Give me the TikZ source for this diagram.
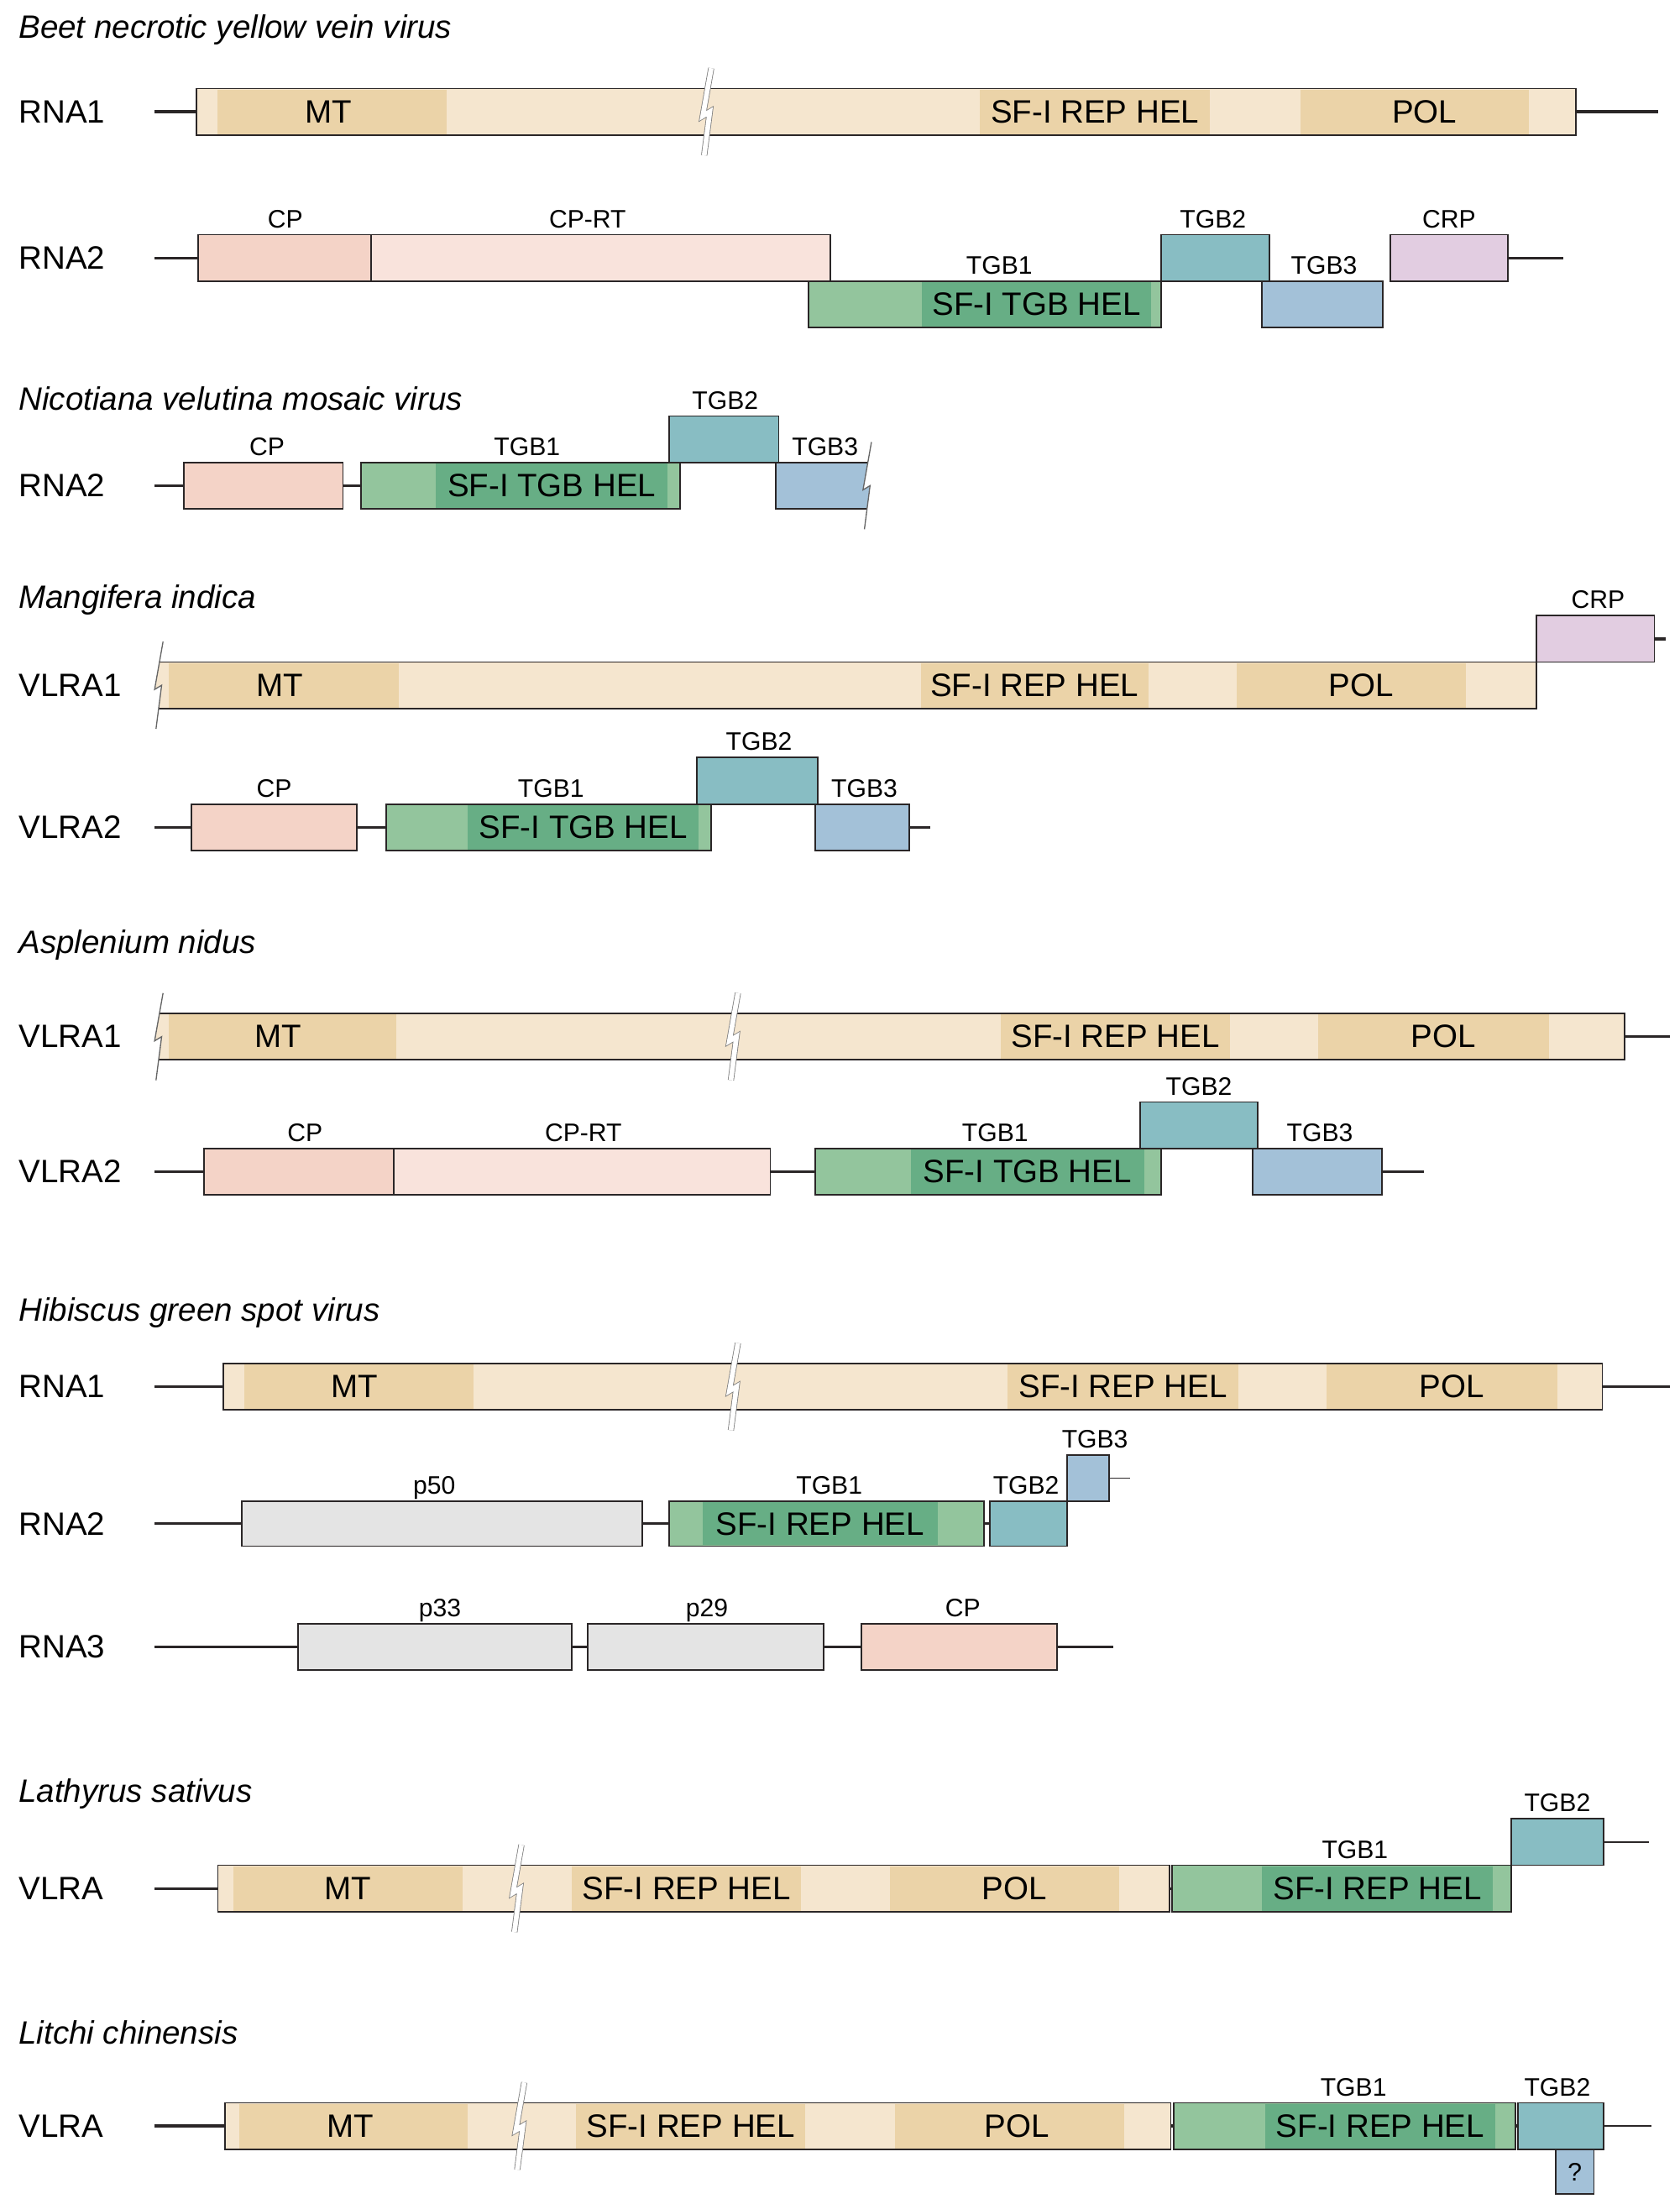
\documentclass[tikz,border=0pt]{standalone}
\usepackage{fontspec}
\setmainfont{Liberation Sans}
\usetikzlibrary{positioning,calc,fit}
\definecolor{tanlt}{HTML}{F5E6CF}
\definecolor{tandk}{HTML}{EBD3A8}
\definecolor{cppink}{HTML}{F4D3C7}
\definecolor{rtpink}{HTML}{F9E3DC}
\definecolor{grnlt}{HTML}{93C59D}
\definecolor{grndk}{HTML}{67AE85}
\definecolor{tgbtwo}{HTML}{88BDC3}
\definecolor{tgbthree}{HTML}{A3C1D8}
\definecolor{crpcol}{HTML}{E2CDE1}
\definecolor{pgray}{HTML}{E4E4E4}
\definecolor{outl}{HTML}{2A2627}
\tikzstyle{genome}=[
  x=0.5pt,y=-0.5pt,font=\fontsize{11.5}{13}\selectfont
]
\tikzstyle{orf}=[
  draw=outl,line width=0.55pt,inner sep=0pt
]
\tikzstyle{dom}=[
  inner sep=0pt
]
\tikzstyle{domtext}=[
  inner sep=0pt,anchor=center
]
\tikzstyle{orflabel}=[
  font=\fontsize{9}{10}\selectfont,inner sep=0pt,anchor=base
]
\tikzstyle{rna}=[
  inner sep=0pt,anchor=west
]
\tikzstyle{species}=[
  font=\fontsize{11.5}{13}\selectfont\itshape,inner sep=0pt,anchor=base west
]
\tikzstyle{bb}=[
  draw=outl,line width=1pt
]
\tikzstyle{bbthin}=[
  draw=outl,line width=0.5pt
]
\tikzstyle{brkedge}=[
  draw=black!50,line width=2.2pt,line join=miter
]
\tikzstyle{brkfill}=[
  draw=white,line width=1.7pt,line join=miter
]
\tikzstyle{brkline}=[
  draw=black!60,line width=0.4pt,line join=miter
]
% break inside a bar
\newcommand{\seqbreak}[1]{%
  \draw[brkedge] ($(#1)+(3,-31)$) -- ($(#1)+(-3,3)$) -- ($(#1)+(2,0)$) -- ($(#1)+(-2,31)$);
  \draw[brkfill] ($(#1)+(3,-31)$) -- ($(#1)+(-3,3)$) -- ($(#1)+(2,0)$) -- ($(#1)+(-2,31)$);
}
% break at the left / right end of a bar
\newcommand{\leftbreak}[1]{%
  \fill[white] ($(#1)+(-14,-31)$) -- ($(#1)+(3,-31)$) -- ($(#1)+(-3,3)$) -- ($(#1)+(2,0)$) -- ($(#1)+(-2,31)$) -- ($(#1)+(-14,31)$) -- cycle;
  \draw[brkline] ($(#1)+(3,-31)$) -- ($(#1)+(-3,3)$) -- ($(#1)+(2,0)$) -- ($(#1)+(-2,31)$);
}
\newcommand{\rightbreak}[1]{%
  \fill[white] ($(#1)+(3,-31)$) -- ($(#1)+(14,-31)$) -- ($(#1)+(14,31)$) -- ($(#1)+(-2,31)$) -- ($(#1)+(2,0)$) -- ($(#1)+(-3,3)$) -- cycle;
  \draw[brkline] ($(#1)+(3,-31)$) -- ($(#1)+(-3,3)$) -- ($(#1)+(2,0)$) -- ($(#1)+(-2,31)$);
}

\begin{document}
\begin{tikzpicture}[genome]
    \useasboundingbox (0,0) rectangle (1195,1568);

    % Beet necrotic yellow vein virus
    \node (t1) at (13,27) [species] {Beet necrotic yellow vein virus};
    \node (n1) at (13,79.5) [rna] {RNA1};
    \coordinate (r1s) at (110,79.5);
    \coordinate (r1e) at (1180,79.5);
    \node (r1) [orf, fill=tanlt, fit={(140,63) (1121,96)}] {};
    \node (r1mt) [dom, fill=tandk, fit={(155,63.7) (318,95.3)}] {};
    \node (r1hel) [dom, fill=tandk, fit={(697,63.7) (861,95.3)}] {};
    \node (r1pol) [dom, fill=tandk, fit={(925,63.7) (1088,95.3)}] {};
    \node (r1mtt) at ($(r1mt)+(-3,0)$) [domtext] {MT};
    \node (r1helt) at (r1hel) [domtext] {SF-I REP HEL};
    \node (r1polt) at ($(r1pol)+(7,0)$) [domtext] {POL};
    \coordinate (r1gap) at (503,79.5);
    \seqbreak{r1gap}
    \draw [bb] (r1s) -- (r1.west);
    \draw [bb] (r1.east) -- (r1e);

    \node (n2) at (13,183.5) [rna] {RNA2};
    \coordinate (r2s) at (110,183.5);
    \coordinate (r2e) at (1112,183.5);
    \node (r2cp) [orf, fill=cppink, fit={(141,167) (264,200)}] {};
    \node (r2rt) [orf, fill=rtpink, fit={(264,167) (591,200)}] {};
    \node (r2tgb1) [orf, fill=grnlt, fit={(575,200) (826,233)}] {};
    \node (r2hel) [dom, fill=grndk, fit={(656,200.7) (819,232.3)}] {};
    \node (r2helt) at (r2hel) [domtext] {SF-I TGB HEL};
    \node (r2tgb2) [orf, fill=tgbtwo, fit={(826,167) (903,200)}] {};
    \node (r2tgb3) [orf, fill=tgbthree, fit={(898,200) (984,233)}] {};
    \node (r2crp) [orf, fill=crpcol, fit={(989,167) (1073,200)}] {};
    \node (l2cp) at (203,162) [orflabel] {CP};
    \node (l2rt) at (418,162) [orflabel] {CP-RT};
    \node (l2tgb1) at (711,195) [orflabel] {TGB1};
    \node (l2tgb2) at (863,162) [orflabel] {TGB2};
    \node (l2tgb3) at (942,195) [orflabel] {TGB3};
    \node (l2crp) at (1031,162) [orflabel] {CRP};
    \draw [bb] (r2s) -- (r2cp.west);
    \draw [bb] (r2crp.east) -- (r2e);

    % Nicotiana velutina mosaic virus
    \node (t2) at (13,292) [species] {Nicotiana velutina mosaic virus};
    \node (n3) at (13,345.5) [rna] {RNA2};
    \coordinate (r3s) at (110,345.5);
    \node (r3cp) [orf, fill=cppink, fit={(131,329) (244,362)}] {};
    \node (r3tgb1) [orf, fill=grnlt, fit={(257,329) (484,362)}] {};
    \node (r3hel) [dom, fill=grndk, fit={(310,329.7) (475,361.3)}] {};
    \node (r3helt) at (r3hel) [domtext] {SF-I TGB HEL};
    \node (r3tgb2) [orf, fill=tgbtwo, fit={(476,296) (554,329)}] {};
    \node (r3tgb3) [orf, fill=tgbthree, fit={(552,329) (625,362)}] {};
    \coordinate (r3gap) at (617,345.5);
    \rightbreak{r3gap}
    \node (l3cp) at (190,324) [orflabel] {CP};
    \node (l3tgb1) at (375,324) [orflabel] {TGB1};
    \node (l3tgb2) at (516,291) [orflabel] {TGB2};
    \node (l3tgb3) at (587,324) [orflabel] {TGB3};
    \draw [bb] (r3s) -- (r3cp.west);
    \draw [bb] (r3cp.east) -- (r3tgb1.west);

    % Mangifera indica
    \node (t3) at (13,433) [species] {Mangifera indica};
    \node (n4) at (13,487.5) [rna] {VLRA1};
    \node (r4) [orf, fill=tanlt, fit={(105,471) (1093,504)}] {};
    \node (r4mt) [dom, fill=tandk, fit={(120,471.7) (284,503.3)}] {};
    \node (r4hel) [dom, fill=tandk, fit={(655,471.7) (817,503.3)}] {};
    \node (r4pol) [dom, fill=tandk, fit={(880,471.7) (1043,503.3)}] {};
    \node (r4mtt) at ($(r4mt)+(-3,0)$) [domtext] {MT};
    \node (r4helt) at (r4hel) [domtext] {SF-I REP HEL};
    \node (r4polt) at ($(r4pol)+(7,0)$) [domtext] {POL};
    \coordinate (r4gap) at (113,487.5);
    \leftbreak{r4gap}
    \node (r4crp) [orf, fill=crpcol, fit={(1093,438) (1177,471)}] {};
    \node (l4crp) at (1137,433) [orflabel] {CRP};
    \coordinate (r4e) at (1185,454.5);
    \draw [bb] (r4crp.east) -- (r4e);

    \node (n5) at (13,588.5) [rna] {VLRA2};
    \coordinate (r5s) at (110,588.5);
    \coordinate (r5e) at (662,588.5);
    \node (r5cp) [orf, fill=cppink, fit={(136,572) (254,605)}] {};
    \node (r5tgb1) [orf, fill=grnlt, fit={(275,572) (506,605)}] {};
    \node (r5hel) [dom, fill=grndk, fit={(333,572.7) (497,604.3)}] {};
    \node (r5helt) at (r5hel) [domtext] {SF-I TGB HEL};
    \node (r5tgb2) [orf, fill=tgbtwo, fit={(496,539) (582,572)}] {};
    \node (r5tgb3) [orf, fill=tgbthree, fit={(580,572) (647,605)}] {};
    \node (l5cp) at (195,567) [orflabel] {CP};
    \node (l5tgb1) at (392,567) [orflabel] {TGB1};
    \node (l5tgb2) at (540,534) [orflabel] {TGB2};
    \node (l5tgb3) at (615,567) [orflabel] {TGB3};
    \draw [bb] (r5s) -- (r5cp.west);
    \draw [bb] (r5cp.east) -- (r5tgb1.west);
    \draw [bb] (r5tgb3.east) -- (r5e);

    % Asplenium nidus
    \node (t4) at (13,678) [species] {Asplenium nidus};
    \node (n6) at (13,737.5) [rna] {VLRA1};
    \coordinate (r6e) at (1188,737.5);
    \node (r6) [orf, fill=tanlt, fit={(105,721) (1156,754)}] {};
    \node (r6mt) [dom, fill=tandk, fit={(120,721.7) (282,753.3)}] {};
    \node (r6hel) [dom, fill=tandk, fit={(712,721.7) (875,753.3)}] {};
    \node (r6pol) [dom, fill=tandk, fit={(938,721.7) (1102,753.3)}] {};
    \node (r6mtt) at ($(r6mt)+(-3,0)$) [domtext] {MT};
    \node (r6helt) at (r6hel) [domtext] {SF-I REP HEL};
    \node (r6polt) at ($(r6pol)+(7,0)$) [domtext] {POL};
    \coordinate (r6gapa) at (113,737.5);
    \coordinate (r6gapb) at (522,737.5);
    \leftbreak{r6gapa}
    \seqbreak{r6gapb}
    \draw [bb] (r6.east) -- (r6e);

    \node (n7) at (13,833.5) [rna] {VLRA2};
    \coordinate (r7s) at (110,833.5);
    \coordinate (r7e) at (1013,833.5);
    \node (r7cp) [orf, fill=cppink, fit={(145,817) (280,850)}] {};
    \node (r7rt) [orf, fill=rtpink, fit={(280,817) (548,850)}] {};
    \node (r7tgb1) [orf, fill=grnlt, fit={(580,817) (826,850)}] {};
    \node (r7hel) [dom, fill=grndk, fit={(648,817.7) (814,849.3)}] {};
    \node (r7helt) at (r7hel) [domtext] {SF-I TGB HEL};
    \node (r7tgb2) [orf, fill=tgbtwo, fit={(811,784) (895,817)}] {};
    \node (r7tgb3) [orf, fill=tgbthree, fit={(891,817) (983,850)}] {};
    \node (l7cp) at (217,812) [orflabel] {CP};
    \node (l7rt) at (415,812) [orflabel] {CP-RT};
    \node (l7tgb1) at (708,812) [orflabel] {TGB1};
    \node (l7tgb2) at (853,779) [orflabel] {TGB2};
    \node (l7tgb3) at (939,812) [orflabel] {TGB3};
    \draw [bb] (r7s) -- (r7cp.west);
    \draw [bb] (r7rt.east) -- (r7tgb1.west);
    \draw [bb] (r7tgb3.east) -- (r7e);

    % Hibiscus green spot virus
    \node (t5) at (13,940) [species] {Hibiscus green spot virus};
    \node (n8) at (13,986.5) [rna] {RNA1};
    \coordinate (r8s) at (110,986.5);
    \coordinate (r8e) at (1188,986.5);
    \node (r8) [orf, fill=tanlt, fit={(159,970) (1140,1003)}] {};
    \node (r8mt) [dom, fill=tandk, fit={(174,970.7) (337,1002.3)}] {};
    \node (r8hel) [dom, fill=tandk, fit={(717,970.7) (881,1002.3)}] {};
    \node (r8pol) [dom, fill=tandk, fit={(944,970.7) (1108,1002.3)}] {};
    \node (r8mtt) at ($(r8mt)+(-3,0)$) [domtext] {MT};
    \node (r8helt) at (r8hel) [domtext] {SF-I REP HEL};
    \node (r8polt) at ($(r8pol)+(7,0)$) [domtext] {POL};
    \coordinate (r8gap) at (522,986.5);
    \seqbreak{r8gap}
    \draw [bb] (r8s) -- (r8.west);
    \draw [bb] (r8.east) -- (r8e);

    \node (n9) at (13,1084) [rna] {RNA2};
    \coordinate (r9s) at (110,1084);
    \coordinate (r9e) at (804,1051.5);
    \node (r9p50) [orf, fill=pgray, fit={(172,1068) (457,1100)}] {};
    \node (r9tgb1) [orf, fill=grnlt, fit={(476,1068) (700,1100)}] {};
    \node (r9hel) [dom, fill=grndk, fit={(500,1068.7) (667,1099.3)}] {};
    \node (r9helt) at (r9hel) [domtext] {SF-I REP HEL};
    \node (r9tgb2) [orf, fill=tgbtwo, fit={(704,1068) (759,1100)}] {};
    \node (r9tgb3) [orf, fill=tgbthree, fit={(759,1035) (789,1068)}] {};
    \node (l9p50) at (309,1063) [orflabel] {p50};
    \node (l9tgb1) at (590,1063) [orflabel] {TGB1};
    \node (l9tgb2) at (730,1063) [orflabel] {TGB2};
    \node (l9tgb3) at (779,1030) [orflabel] {TGB3};
    \draw [bb] (r9s) -- (r9p50.west);
    \draw [bb] (r9p50.east) -- (r9tgb1.west);
    \draw [bb] (r9tgb1.east) -- (r9tgb2.west);
    \draw [bbthin] (r9tgb3.east) -- (r9e);

    \node (n10) at (13,1171.5) [rna] {RNA3};
    \coordinate (r10s) at (110,1171.5);
    \coordinate (r10e) at (792,1171.5);
    \node (r10p33) [orf, fill=pgray, fit={(212,1155) (407,1188)}] {};
    \node (r10p29) [orf, fill=pgray, fit={(418,1155) (586,1188)}] {};
    \node (r10cp) [orf, fill=cppink, fit={(613,1155) (752,1188)}] {};
    \node (l10p33) at (313,1150) [orflabel] {p33};
    \node (l10p29) at (503,1150) [orflabel] {p29};
    \node (l10cp) at (685,1150) [orflabel] {CP};
    \draw [bb] (r10s) -- (r10p33.west);
    \draw [bb] (r10p33.east) -- (r10p29.west);
    \draw [bb] (r10p29.east) -- (r10cp.west);
    \draw [bb] (r10cp.east) -- (r10e);

    % Lathyrus sativus
    \node (t6) at (13,1282) [species] {Lathyrus sativus};
    \node (n11) at (13,1343.5) [rna] {VLRA};
    \coordinate (r11s) at (110,1343.5);
    \coordinate (r11e) at (1173,1310.5);
    \node (r11) [orf, fill=tanlt, fit={(155,1327) (832,1360)}] {};
    \node (r11mt) [dom, fill=tandk, fit={(166,1327.7) (329,1359.3)}] {};
    \node (r11hel) [dom, fill=tandk, fit={(407,1327.7) (570,1359.3)}] {};
    \node (r11pol) [dom, fill=tandk, fit={(633,1327.7) (796,1359.3)}] {};
    \node (r11mtt) at (r11mt) [domtext] {MT};
    \node (r11helt) at (r11hel) [domtext] {SF-I REP HEL};
    \node (r11polt) at ($(r11pol)+(7,0)$) [domtext] {POL};
    \coordinate (r11gap) at (368,1343.5);
    \seqbreak{r11gap}
    \node (r11tgb1) [orf, fill=grnlt, fit={(834,1327) (1075,1360)}] {};
    \node (r11tgbhel) [dom, fill=grndk, fit={(898,1327.7) (1062,1359.3)}] {};
    \node (r11tgbhelt) at (r11tgbhel) [domtext] {SF-I REP HEL};
    \node (r11tgb2) [orf, fill=tgbtwo, fit={(1075,1294) (1141,1327)}] {};
    \node (l11tgb1) at (964,1322) [orflabel] {TGB1};
    \node (l11tgb2) at (1108,1289) [orflabel] {TGB2};
    \draw [bb] (r11s) -- (r11.west);
    \draw [bb] (r11.east) -- (r11tgb1.west);
    \draw [bbthin] (r11tgb2.east) -- (r11e);

    % Litchi chinensis
    \node (t7) at (13,1454) [species] {Litchi chinensis};
    \node (n12) at (13,1512.5) [rna] {VLRA};
    \coordinate (r12s) at (110,1512.5);
    \coordinate (r12e) at (1175,1512.5);
    \node (r12) [orf, fill=tanlt, fit={(160,1496) (833,1529)}] {};
    \node (r12mt) [dom, fill=tandk, fit={(170,1496.7) (333,1528.3)}] {};
    \node (r12hel) [dom, fill=tandk, fit={(410,1496.7) (573,1528.3)}] {};
    \node (r12pol) [dom, fill=tandk, fit={(637,1496.7) (800,1528.3)}] {};
    \node (r12mtt) at ($(r12mt)+(-2,0)$) [domtext] {MT};
    \node (r12helt) at (r12hel) [domtext] {SF-I REP HEL};
    \node (r12polt) at ($(r12pol)+(5,0)$) [domtext] {POL};
    \coordinate (r12gap) at (370,1512.5);
    \seqbreak{r12gap}
    \node (r12tgb1) [orf, fill=grnlt, fit={(835,1496) (1078,1529)}] {};
    \node (r12tgbhel) [dom, fill=grndk, fit={(900,1496.7) (1064,1528.3)}] {};
    \node (r12tgbhelt) at (r12tgbhel) [domtext] {SF-I REP HEL};
    \node (r12tgb2) [orf, fill=tgbtwo, fit={(1080,1496) (1141,1529)}] {};
    \node (r12q) [orf, fill=tgbthree, fit={(1107,1529) (1134,1561)}] {};
    \node (r12qt) at (r12q) [domtext, font=\fontsize{9}{10}\selectfont] {?};
    \node (l12tgb1) at (963,1491) [orflabel] {TGB1};
    \node (l12tgb2) at (1108,1491) [orflabel] {TGB2};
    \draw [bb] (r12s) -- (r12.west);
    \draw [bb] (r12.east) -- (r12tgb1.west);
    \draw [bb] (r12tgb1.east) -- (r12tgb2.west);
    \draw [bbthin] (r12tgb2.east) -- (r12e);
\end{tikzpicture}
\end{document}
